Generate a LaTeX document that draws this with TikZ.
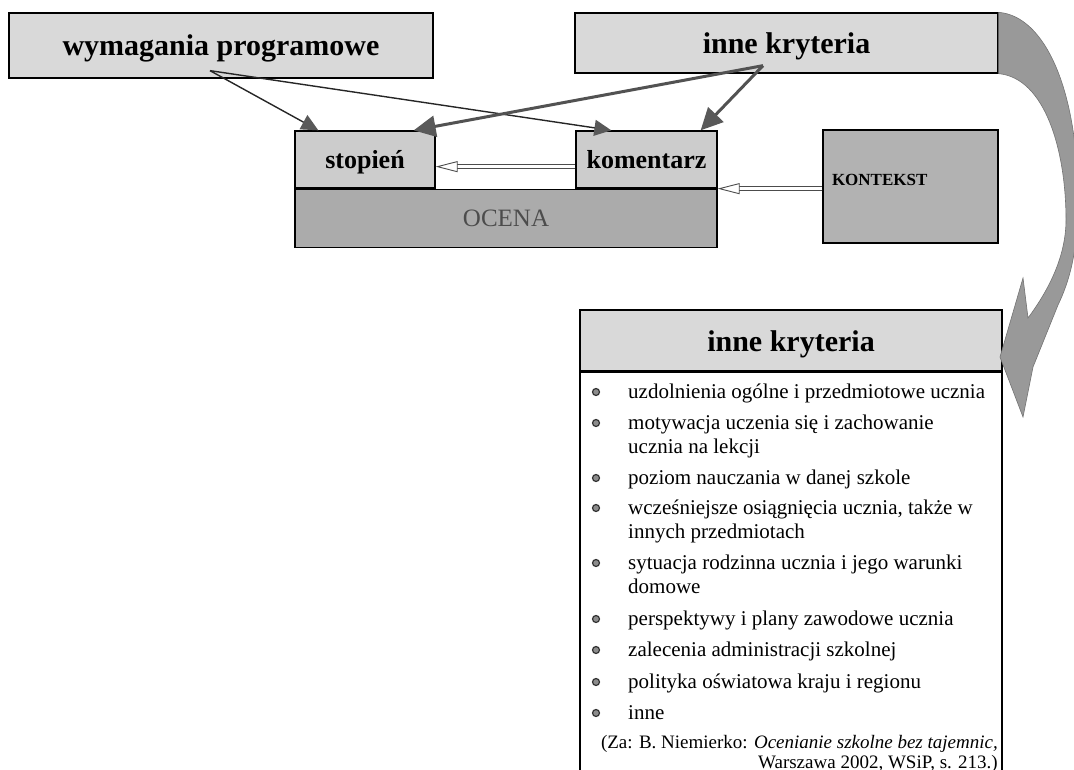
\documentclass[tikz,border=0pt]{standalone}
\usepackage{fontspec}
\setmainfont{Liberation Serif}
\usetikzlibrary{arrows.meta,calc,positioning}
\newcommand{\itemrows}[1]{\begin{tabular}[t]{@{}l@{}}#1\end{tabular}}

\begin{document}
\begin{tikzpicture}[x=1pt,y=-1pt,
    head node/.style={rectangle,draw,line width=1.3pt,fill=black!15,inner sep=0pt,text height=23pt,text depth=2pt,font=\fontsize{30}{36}\selectfont\bfseries},
    grade node/.style={rectangle,draw,line width=1.3pt,fill=black!20,inner sep=0pt,minimum width=140pt,minimum height=57pt,text height=21pt,text depth=2pt,font=\fontsize{26}{31}\selectfont\bfseries},
    thin arrow/.style={draw=black!85,line width=1.4pt,-{Triangle[length=17pt,width=16pt,color=black!65]}},
    thick arrow/.style={draw=black!68,line width=3pt,-{Triangle[length=22pt,width=21pt,color=black!65]}},
    hollow arrow/.style={draw=black!70,double=white,double distance=3pt,line width=0.9pt,-{Triangle[open,length=22pt,width=11pt,fill=white]}},
    item text/.style={anchor=base west,inner sep=0pt,font=\fontsize{21}{24}\selectfont},
    bullet/.style={circle,draw=black!80,fill=black!45,line width=1.2pt,inner sep=0pt,minimum size=7pt}]
  \useasboundingbox (0,0) rectangle (1074,770);

  % upper part
  \node[head node,minimum width=424pt,minimum height=65pt] (wym) at (221,45.5) {wymagania programowe};
  \node[head node,minimum width=423pt,minimum height=60pt] (inne) at (786.5,43) {inne kryteria};
  \node[grade node] (stop) at (365,159.5) {stopień};
  \node[rectangle,draw,line width=1.3pt,fill=black!33,inner sep=0pt,minimum width=422pt,minimum height=58pt,
        text=black!70,font=\fontsize{25}{30}\selectfont,anchor=north west] (oc) at (stop.south west) {OCENA};
  \node[grade node,minimum width=141pt,anchor=south east] (kom) at (oc.north east) {komentarz};
  \node[rectangle,draw,line width=1.3pt,fill=black!30,inner sep=9pt,minimum width=175pt,minimum height=113pt,
        text width=157pt,align=left,text depth=13pt,font=\fontsize{17}{20}\selectfont\bfseries] (kon) at (910.5,186.5) {KONTEKST};

  \coordinate (wymout) at ($(wym.south)+(-11,-8)$);
  \coordinate (inneout) at ($(inne.south)+(-23.5,-8)$);

  \path (wymout) edge[thin arrow] ($(stop.north west)+(24,0)$)
        (wymout) edge[thin arrow] ($(kom.north west)+(36,0)$)
        (inneout) edge[thick arrow] ($(stop.north east)+(-22,0)$)
        (inneout) edge[thick arrow] ($(kom.north east)+(-17,0)$);
  \draw[hollow arrow] ($(kom.south west)+(0,-22)$) -- ($(stop.south east)+(0,-22)$);
  \draw[hollow arrow] (kon.west |- oc.north east) -- (oc.north east);

  % list
  \node[head node,minimum width=422pt,minimum height=61pt] (lh) at (791,340.5) {inne kryteria};
  \node[draw,line width=1.3pt,fill=white,inner sep=0pt,minimum width=422pt,minimum height=410pt,anchor=north] (lb) at (lh.south) {};

  \foreach \yy/\txt [count=\n] in {398/{uzdolnienia ogólne i przedmiotowe ucznia},
      429/{motywacja uczenia się i zachowanie\\ucznia na lekcji},
      484/{poziom nauczania w danej szkole},
      514/{wcześniejsze osiągnięcia ucznia, także w\\innych przedmiotach},
      569/{sytuacja rodzinna ucznia i jego warunki\\domowe},
      625/{perspektywy i plany zawodowe ucznia},
      656/{zalecenia administracji szkolnej},
      688/{polityka oświatowa kraju i regionu},
      719/{inne}}
  {
    \node[item text] (item\n) at (628,\yy) {\itemrows{\txt}};
    \node[bullet] (dot\n) at (596,\yy-6) {};
  }
  \node[anchor=base east,inner sep=0pt,font=\fontsize{19}{20}\selectfont] (cite1) at (998,748)
       {(Za: B. Niemierko: \textit{Ocenianie szkolne bez tajemnic,}};
  \node[anchor=base east,inner sep=0pt,font=\fontsize{19}{20}\selectfont] (cite2) at (998,768)
       {Warszawa 2002, WSiP, s. 213.)};

  % curved arrow
  \fill[black!40,draw=black!55,line width=0.6pt] (inne.north east)
       .. controls (1045,16) and (1078,90) .. (1078,200)
       .. controls (1078,250) and (1070,280) .. (1058,305)
       -- (1033,367) -- (1023,417) -- (1000,357) -- (1023,278) -- (1028,318)
       .. controls (1045,295) and (1066,260) .. (1066,220)
       .. controls (1066,150) and (1045,78) .. (inne.south east) -- cycle;
\end{tikzpicture}
\end{document}
